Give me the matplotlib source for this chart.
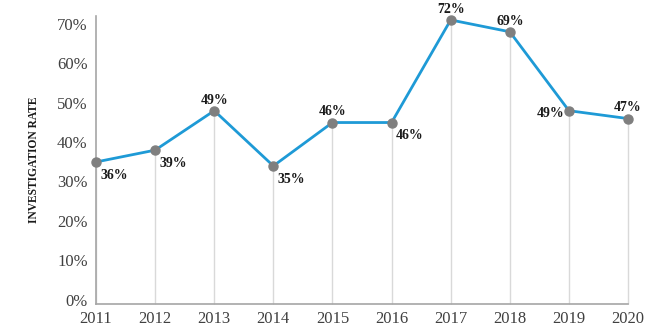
import matplotlib.pyplot as plt
import matplotlib.transforms as mtransforms
from matplotlib.ticker import FuncFormatter

years = [2011, 2012, 2013, 2014, 2015, 2016, 2017, 2018, 2019, 2020]
rates = [36, 39, 49, 35, 46, 46, 72, 69, 49, 47]
# where each value label sits relative to its point
label_pos = ['br', 'br', 'a', 'br', 'a', 'br', 'a', 'a', 'l', 'a']

plt.rcParams['font.family'] = ['Liberation Serif', 'DejaVu Serif']

fig = plt.figure(figsize=(6.5, 3.32), dpi=100)
ax = fig.add_axes([0.1477, 0.0843, 0.8185, 0.8675])

# drop lines from each point down to zero
ax.vlines(years, 0, rates, color='#d9d9d9', lw=1, zorder=1)
ax.plot(years, rates, color='#1e9ad6', lw=2, zorder=2)
ax.plot(years, rates, 'o', color='#7f7f7f', ms=6.5, zorder=3)

for x, y, p in zip(years, rates, label_pos):
    s = f'{y}%'
    if p == 'br':
        ax.annotate(s, (x, y), xytext=(3, -5), textcoords='offset points',
                    ha='left', va='top', fontsize=10, fontweight='bold', color='#1a1a1a')
    elif p == 'a':
        ax.annotate(s, (x, y), xytext=(0, 3), textcoords='offset points',
                    ha='center', va='bottom', fontsize=10, fontweight='bold', color='#1a1a1a')
    else:
        ax.annotate(s, (x, y), xytext=(-3, -2), textcoords='offset points',
                    ha='right', va='center', fontsize=10, fontweight='bold', color='#1a1a1a')

ax.set_xlim(2011, 2020)
ax.set_ylim(0, 73)
ax.set_xticks(years)
ax.set_yticks(range(0, 71, 10))
ax.yaxis.set_major_formatter(FuncFormatter(lambda v, _: f'{int(v)}%'))
ax.tick_params(length=0, labelsize=12, colors='#404040', pad=6)
ax.tick_params(axis='x', pad=5)

# lift the percent labels a little off their gridline values
shift = mtransforms.ScaledTranslation(0, 3 / 72, fig.dpi_scale_trans)
for lbl in ax.get_yticklabels():
    lbl.set_transform(lbl.get_transform() + shift)

for side in ['top', 'right']:
    ax.spines[side].set_visible(False)
for side in ['left', 'bottom']:
    ax.spines[side].set_color('#a6a6a6')
    ax.spines[side].set_linewidth(1.2)
for a in ax.get_children():
    a.set_clip_on(False)

ax.set_ylabel('INVESTIGATION RATE', fontsize=8.3, fontweight='bold', color='#1a1a1a', labelpad=12)

plt.savefig('out.png', dpi=100)
